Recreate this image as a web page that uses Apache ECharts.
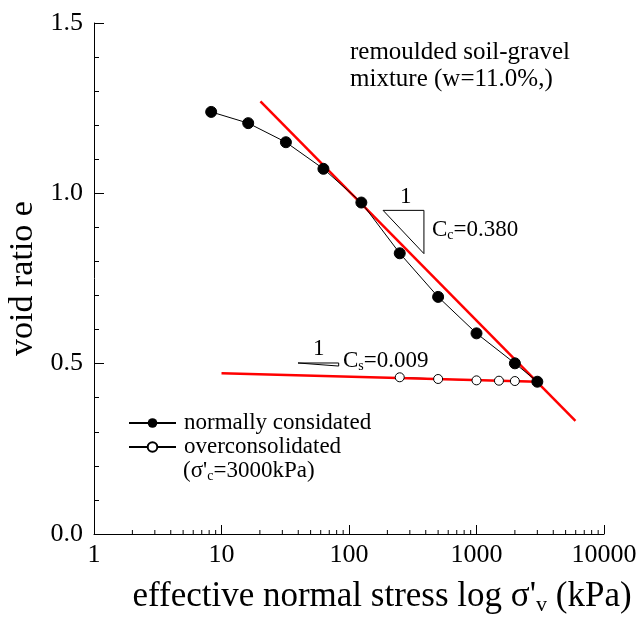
<!DOCTYPE html>
<html lang="en">
<head>
  <meta charset="UTF-8">
  <script src="https://cdn.jsdelivr.net/npm/echarts@6.0.0/dist/echarts.min.js"></script>
</head>
<body style="margin:0;background:#fff;">
  <div id="main" style="width:641px;height:617px;"></div>
  <script type="text/javascript">
    // normally consolidated (filled dots)
    const stressNC = [8.3, 16.2, 32, 63, 125, 250, 500, 1000, 2000, 3000];
    const voidNC = [1.239, 1.206, 1.150, 1.072, 0.973, 0.824, 0.696, 0.589, 0.501, 0.447];
    // unloading, overconsolidated (open dots)
    const stressOC = [250, 500, 1000, 1500, 2000, 3000];
    const voidOC = [0.460, 0.455, 0.451, 0.450, 0.449, 0.447];
    // red fitted lines
    const ccLine = [[20.2, 1.270], [5970, 0.332]];
    const csLine = [[10, 0.472], [3000, 0.447]];
    // slope triangles
    const ccTriangle = [[185, 0.950], [387, 0.950], [387, 0.823], [185, 0.950]];
    const csTriangle = [[39.8, 0.502], [83, 0.502], [83, 0.493], [39.8, 0.502]];
    // axis ticks
    const xTicks = [1, 10, 100, 1000, 10000];
    const yTicks = [0.0, 0.5, 1.0, 1.5];

    const font = 'Liberation Serif';
    const minorX = [];
    for (let d = 1; d < 10000; d *= 10) {
      for (let k = 2; k <= 9; k++) minorX.push([d * k, 0]);
    }
    const zip = (xs, ys) => xs.map((x, i) => [x, ys[i]]);

    // rich styles, s = subscript pushed down by top padding
    const richFor = (size) => ({
      a: { fontFamily: font, fontSize: size, color: '#000', verticalAlign: 'top' },
      s: {
        fontFamily: font, fontSize: Math.round(size * 0.62), color: '#000', verticalAlign: 'top',
        padding: [Math.round(size * 0.42), 0, 0, 0]
      }
    });

    const myChart = echarts.init(document.getElementById('main'));
    myChart.setOption({
      animation: false,
      grid: { left: 94, right: 37, top: 23, bottom: 83, outerBoundsMode: 'none', containLabel: false },
      xAxis: {
        type: 'log',
        logBase: 10,
        min: xTicks[0],
        max: xTicks[xTicks.length - 1],
        name: '{a|effective normal stress log σ\'}{s|v}{a| (kPa)}',
        nameLocation: 'middle',
        nameGap: 45,
        nameTextStyle: { rich: richFor(35), padding: [0, 0, 0, 66] },
        axisLine: { lineStyle: { color: '#000', width: 1 } },
        axisTick: { inside: true, length: 9, lineStyle: { color: '#000' } },
        axisLabel: { fontFamily: font, fontSize: 26, color: '#000', margin: 8, formatter: v => String(v) },
        splitLine: { show: false }
      },
      yAxis: {
        type: 'value',
        min: yTicks[0],
        max: yTicks[yTicks.length - 1],
        interval: 0.5,
        name: 'void ratio e',
        nameLocation: 'middle',
        nameGap: 52,
        nameTextStyle: { fontFamily: font, fontSize: 34, color: '#000' },
        axisLine: { show: true, lineStyle: { color: '#000', width: 1 } },
        axisTick: { inside: true, length: 10, lineStyle: { color: '#000' } },
        minorTick: { show: true, splitNumber: 5, length: 5, lineStyle: { color: '#000' } },
        axisLabel: {
          fontFamily: font, fontSize: 26, color: '#000', margin: 11,
          formatter: v => v.toFixed(1)
        },
        splitLine: { show: false }
      },
      legend: {
        data: ['normally considated', 'overconsolidated'],
        orient: 'vertical',
        left: 128,
        top: 411,
        padding: 0,
        itemWidth: 47,
        itemHeight: 12,
        itemGap: 0,
        textStyle: { fontFamily: font, fontSize: 23, color: '#000', lineHeight: 24, padding: [0, 0, 0, 3] }
      },
      graphic: [
        { type: 'text', left: 350, top: 40, style: { text: 'remoulded soil-gravel', font: '25px "Liberation Serif"', fill: '#000' } },
        { type: 'text', left: 350, top: 67, style: { text: 'mixture (w=11.0%,)', font: '25px "Liberation Serif"', fill: '#000' } },
        { type: 'text', left: 400, top: 185, style: { text: '1', font: '23px "Liberation Serif"', fill: '#000' } },
        { type: 'text', left: 432, top: 218, style: { text: '{a|C}{s|c}{a|=0.380}', rich: richFor(23) } },
        { type: 'text', left: 313, top: 337, style: { text: '1', font: '23px "Liberation Serif"', fill: '#000' } },
        { type: 'text', left: 343, top: 349, style: { text: '{a|C}{s|s}{a|=0.009}', rich: richFor(23) } },
        { type: 'text', left: 183, top: 459, style: { text: '{a|(σ\'}{s|c}{a|=3000kPa)}', rich: richFor(23) } }
      ],
      series: [
        {
          name: 'minor ticks',
          type: 'custom',
          silent: true,
          clip: false,
          z: 10,
          encode: { x: 0, y: 1 },
          data: minorX,
          renderItem: (params, api) => {
            const p = api.coord([api.value(0), api.value(1)]);
            return {
              type: 'line',
              shape: { x1: p[0], y1: p[1], x2: p[0], y2: p[1] - 4 },
              style: { stroke: '#000', lineWidth: 1 }
            };
          }
        },
        {
          name: 'Cc triangle',
          type: 'line',
          data: ccTriangle,
          symbol: 'none',
          silent: true,
          lineStyle: { color: '#000', width: 1 }
        },
        {
          name: 'Cs triangle',
          type: 'line',
          data: csTriangle,
          symbol: 'none',
          silent: true,
          lineStyle: { color: '#000', width: 1 }
        },
        {
          name: 'overconsolidated',
          type: 'line',
          data: zip(stressOC, voidOC),
          symbol: 'circle',
          symbolSize: 9,
          itemStyle: { color: '#fff', borderColor: '#000', borderWidth: 1 },
          lineStyle: { color: '#000', width: 1 }
        },
        {
          name: 'Cc line',
          type: 'line',
          data: ccLine,
          symbol: 'none',
          silent: true,
          lineStyle: { color: '#ff0000', width: 2.5 }
        },
        {
          name: 'Cs line',
          type: 'line',
          data: csLine,
          symbol: 'none',
          silent: true,
          lineStyle: { color: '#ff0000', width: 2.5 }
        },
        {
          name: 'normally considated',
          type: 'line',
          data: zip(stressNC, voidNC),
          symbol: 'circle',
          symbolSize: 11,
          itemStyle: { color: '#000', borderColor: '#000' },
          lineStyle: { color: '#000', width: 1 },
          z: 5
        }
      ]
    });
  </script>
</body>
</html>
